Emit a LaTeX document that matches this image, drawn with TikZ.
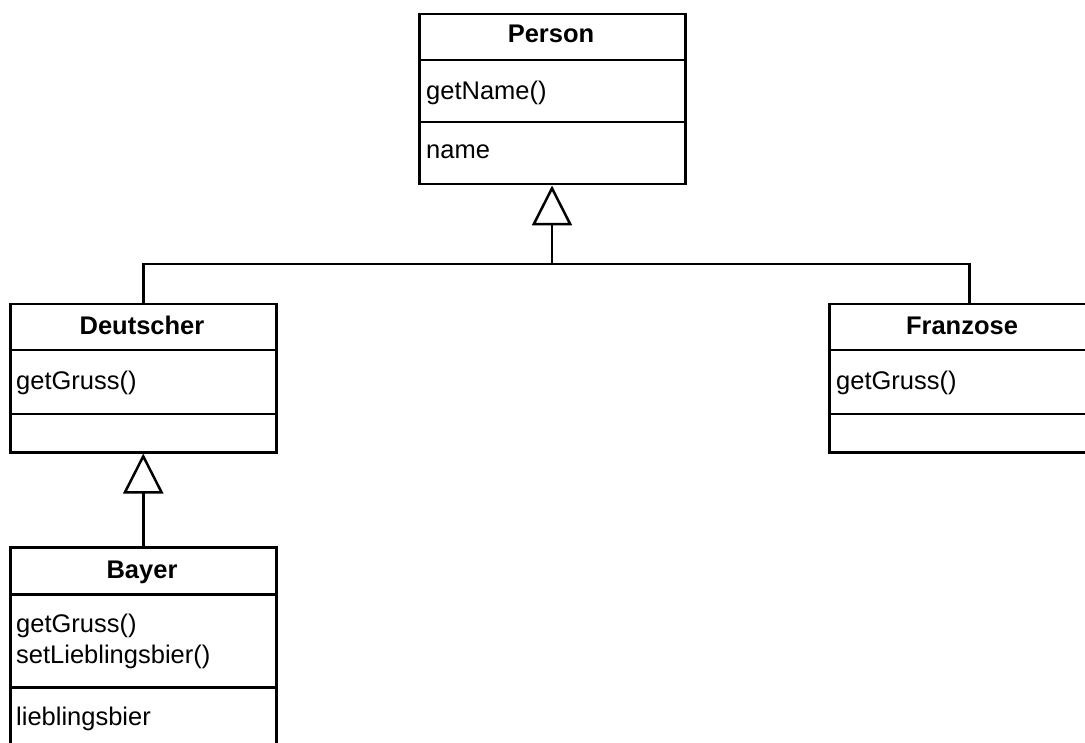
\documentclass[tikz,border=0pt]{standalone}
\usepackage{fontspec}
\setmainfont{Liberation Sans}
\usetikzlibrary{arrows.meta}
\begin{document}
\begin{tikzpicture}[x=1pt,y=-1pt,
  comp/.style={draw,line width=2.5pt,anchor=north west,inner sep=0pt,minimum width=#1},
  ttl/.style={anchor=base,inner sep=0pt,font=\fontsize{25.5}{30}\selectfont\bfseries},
  txt/.style={anchor=base west,inner sep=0pt,font=\fontsize{25.5}{30}\selectfont},
  conn/.style={line width=2.5pt},
  inh/.style={conn,-{Triangle[open,width=40pt,length=40pt,line width=2.5pt]}}]
\useasboundingbox (0,0) rectangle (1085,743);
% Person
\node[comp=266pt,minimum height=46.3pt] (pt) at (418,12.7) {};
\node[comp=266pt,minimum height=62pt] (pm) at (418,59) {};
\node[comp=266pt,minimum height=62pt] (pa) at (418,121) {};
\node[ttl] (ptx) at (551,43) {Person};
\node[txt] (pmx) at (426,100) {getName()};
\node[txt] (pax) at (426,159) {name};
% Deutscher
\node[comp=266pt,minimum height=46pt] (dt) at (9,303) {};
\node[comp=266pt,minimum height=64pt] (dm) at (9,349) {};
\node[comp=266pt,minimum height=38pt] (da) at (9,413) {};
\node[ttl] (dtx) at (142,335) {Deutscher};
\node[txt] (dmx) at (16,390) {getGruss()};
% Franzose
\node[comp=268pt,minimum height=46pt] (ft) at (828,303) {};
\node[comp=268pt,minimum height=64pt] (fm) at (828,349) {};
\node[comp=268pt,minimum height=38pt] (fa) at (828,413) {};
\node[ttl] (ftx) at (962,335) {Franzose};
\node[txt] (fmx) at (836,390) {getGruss()};
% Bayer
\node[comp=266pt,minimum height=47pt] (bt) at (9,546) {};
\node[comp=266pt,minimum height=93pt] (bm) at (9,593) {};
\node[comp=266pt,minimum height=64pt] (ba) at (9,686) {};
\node[ttl] (btx) at (142,578) {Bayer};
\node[txt] (bmx1) at (16,632) {getGruss()};
\node[txt] (bmx2) at (16,663) {setLieblingsbier()};
\node[txt] (bax) at (16,725) {lieblingsbier};
% connectors
\coordinate (j) at (552,264);
\draw[conn] (dt.north) |- (j) -| ([xshift=6pt]ft.north);
\draw[inh] (j) -- (pa.south -| j);
\draw[inh] (bt.north) -- (da.south);
\end{tikzpicture}
\end{document}
